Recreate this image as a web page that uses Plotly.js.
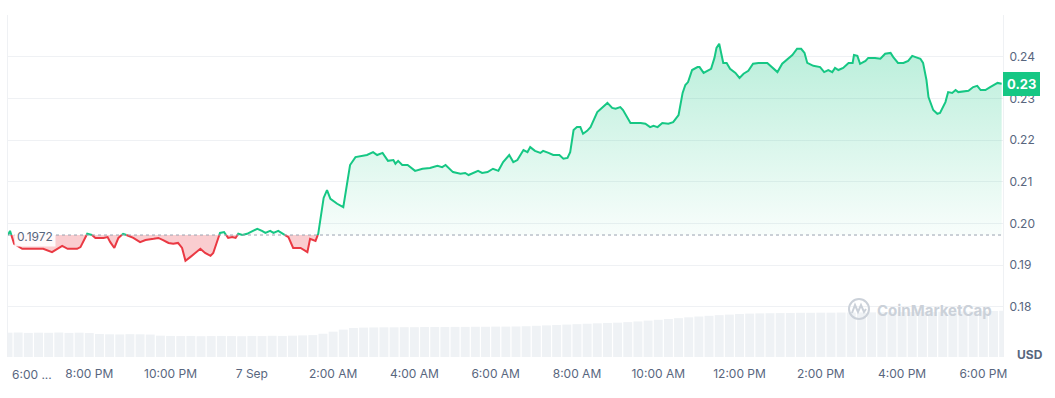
<!DOCTYPE html>
<html>
<head>
<meta charset="utf-8">
<script src="https://cdn.plot.ly/plotly-3.0.1.min.js"></script>
<style>
  html, body { margin: 0; padding: 0; background: #ffffff; }
  #chart { width: 1055px; height: 398px; }
</style>
</head>
<body>
<div id="chart"></div>
<script>
// ---- data ----
// minutes after 6 Sep 18:00
const priceMinutes = [0,3,9,21,30,43,52,65,80,88,102,107,117,124,129,141,147,151,157,163,170,178,185,195,203,215,222,229,237,244,251,257,262,269,277,284,291,299,303,313,319,325,331,336,340,346,353,358,368,375,380,387,392,399,406,414,421,432,442,446,454,458,466,471,476,486,495,505,513,523,530,539,545,553,561,569,572,576,582,590,601,612,623,634,641,646,657,668,675,680,690,694,700,708,716,724,731,740,746,752,761,767,771,778,786,790,798,805,814,820,826,830,835,840,845,849,855,860,870,877,885,892,897,904,908,919,934,941,948,953,959,966,975,982,990,996,1000,1004,1010,1018,1021,1027,1032,1038,1043,1046,1050,1056,1061,1066,1074,1080,1086,1093,1100,1108,1121,1128,1136,1143,1151,1158,1165,1171,1176,1180,1189,1199,1205,1211,1217,1221,1226,1233,1241,1247,1249,1254,1258,1266,1270,1280,1288,1295,1303,1307,1314,1322,1329,1335,1340,1347,1351,1356,1359,1366,1372,1376,1384,1388,1394,1399,1403,1418,1425,1431,1436,1443,1450,1461,1467];
const priceUSD = [0.1972,0.1982,0.1951,0.1939,0.1939,0.1939,0.1939,0.1931,0.1946,0.1939,0.1939,0.1943,0.1975,0.1972,0.1965,0.1965,0.1967,0.1955,0.1941,0.1965,0.1975,0.1970,0.1965,0.1955,0.1960,0.1963,0.1965,0.1960,0.1953,0.1951,0.1953,0.1941,0.1910,0.1919,0.1929,0.1939,0.1929,0.1922,0.1929,0.1977,0.1979,0.1965,0.1967,0.1965,0.1975,0.1972,0.1975,0.1979,0.1987,0.1982,0.1977,0.1982,0.1977,0.1982,0.1975,0.1967,0.1941,0.1941,0.1931,0.1963,0.1958,0.1975,0.2061,0.2080,0.2059,0.2047,0.2039,0.2140,0.2159,0.2162,0.2164,0.2171,0.2164,0.2169,0.2150,0.2152,0.2143,0.2150,0.2140,0.2140,0.2126,0.2131,0.2133,0.2138,0.2135,0.2140,0.2123,0.2119,0.2121,0.2116,0.2123,0.2126,0.2121,0.2123,0.2131,0.2126,0.2147,0.2164,0.2147,0.2152,0.2176,0.2171,0.2183,0.2174,0.2169,0.2174,0.2169,0.2164,0.2164,0.2155,0.2157,0.2171,0.2224,0.2231,0.2231,0.2215,0.2222,0.2231,0.2267,0.2277,0.2289,0.2277,0.2275,0.2279,0.2272,0.2241,0.2241,0.2239,0.2231,0.2234,0.2231,0.2241,0.2239,0.2243,0.2260,0.2313,0.2332,0.2339,0.2368,0.2375,0.2375,0.2361,0.2366,0.2371,0.2397,0.2421,0.2431,0.2385,0.2385,0.2371,0.2361,0.2349,0.2359,0.2366,0.2383,0.2385,0.2385,0.2375,0.2363,0.2383,0.2395,0.2404,0.2419,0.2419,0.2409,0.2385,0.2378,0.2375,0.2363,0.2368,0.2363,0.2373,0.2368,0.2373,0.2385,0.2385,0.2404,0.2402,0.2383,0.2390,0.2397,0.2397,0.2395,0.2407,0.2409,0.2399,0.2385,0.2385,0.2390,0.2402,0.2399,0.2395,0.2385,0.2344,0.2303,0.2272,0.2263,0.2265,0.2291,0.2315,0.2313,0.2320,0.2315,0.2318,0.2327,0.2330,0.2320,0.2320,0.2327,0.2337,0.2335];
const openPrice = 0.1972;
// volume (million USD), one bar per 15 minutes from 6 Sep 18:00
const volumeM = [17.8,17.9,17.6,17.8,17.7,17.9,17.6,17.8,17.5,16.8,16.6,16.5,16.7,16.6,16.4,15.6,15.4,15.3,15.4,15.2,15.3,15.4,15.3,15.2,15.4,15.3,15.5,15.4,15.6,15.8,16.0,17.0,18.5,20.0,21.2,21.5,21.6,21.7,21.7,21.8,21.8,21.9,21.9,21.9,22.0,22.0,22.1,22.1,22.2,22.2,22.3,22.5,22.8,23.1,23.4,23.7,24.0,24.3,24.6,24.9,25.1,25.5,26.0,26.6,27.2,27.8,28.4,29.0,29.6,30.1,30.6,31.0,31.4,31.7,31.9,32.0,32.1,32.2,32.3,32.3,32.4,32.4,32.5,32.5,32.6,32.6,32.7,32.7,32.8,32.9,32.9,33.0,33.1,33.2,33.3,33.4,33.5,33.6,33.8];
const volumeStepMinutes = 15;
const tickTimes = ["2024-09-06 20:00","2024-09-06 22:00","2024-09-07 00:00","2024-09-07 02:00","2024-09-07 04:00","2024-09-07 06:00","2024-09-07 08:00","2024-09-07 10:00","2024-09-07 12:00","2024-09-07 14:00","2024-09-07 16:00","2024-09-07 18:00"];
const tickLabels = ["8:00 PM","10:00 PM","7 Sep","2:00 AM","4:00 AM","6:00 AM","8:00 AM","10:00 AM","12:00 PM","2:00 PM","4:00 PM","6:00 PM"];
const firstTickLabel = "6:00 ...";
const yTickVals = [0.18,0.19,0.20,0.21,0.22,0.23,0.24,0.25];
const yTickText = ["0.18","0.19","0.20","0.21","0.22","0.23","0.24",""];
const badgeText = "0.23";

// ---- build ----
const START = Date.UTC(2024, 8, 6, 18, 0);
const MIN = 60000;
const t = priceMinutes.map(m => START + m * MIN);
const vt = volumeM.map((_, i) => START + i * volumeStepMinutes * MIN);

// insert crossing points where the line crosses the open price (for colouring)
const X = [], Y = [];
for (let i = 0; i < t.length; i++) {
  X.push(t[i]); Y.push(priceUSD[i]);
  if (i < t.length - 1) {
    const a = priceUSD[i] - openPrice, b = priceUSD[i + 1] - openPrice;
    if (a * b < 0) {
      const f = a / (a - b);
      X.push(t[i] + f * (t[i + 1] - t[i])); Y.push(openPrice);
    }
  }
}
const hi = Y.map(v => Math.max(v, openPrice));
const lo = Y.map(v => Math.min(v, openPrice));
const gLine = Y.map(v => v >= openPrice ? v : null);
const rLine = Y.map(v => v <= openPrice ? v : null);
const baseArr = Y.map(() => openPrice);

const GREEN = '#16c784', RED = '#ea3943', GREY = '#58667e';

const traces = [
  { type: 'bar', x: vt, y: volumeM, yaxis: 'y2', marker: { color: '#eff2f5', line: { width: 0 } }, hoverinfo: 'skip' },
  { type: 'scatter', mode: 'lines', x: X, y: baseArr, line: { width: 0, color: 'rgba(0,0,0,0)' }, hoverinfo: 'skip' },
  { type: 'scatter', mode: 'lines', x: X, y: hi, fill: 'tonexty', line: { width: 0, color: 'rgba(0,0,0,0)' },
    fillgradient: { type: 'vertical', start: openPrice, stop: 0.243,
      colorscale: [[0, 'rgba(22,199,132,0.03)'], [1, 'rgba(22,199,132,0.30)']] }, hoverinfo: 'skip' },
  { type: 'scatter', mode: 'lines', x: X, y: baseArr, line: { width: 0, color: 'rgba(0,0,0,0)' }, hoverinfo: 'skip' },
  { type: 'scatter', mode: 'lines', x: X, y: lo, fill: 'tonexty', fillcolor: 'rgba(234,57,67,0.25)', line: { width: 0, color: 'rgba(0,0,0,0)' }, hoverinfo: 'skip' },
  { type: 'scatter', mode: 'lines', x: X, y: gLine, line: { width: 2, color: GREEN }, connectgaps: false, hoverinfo: 'skip' },
  { type: 'scatter', mode: 'lines', x: X, y: rLine, line: { width: 2, color: RED }, connectgaps: false, hoverinfo: 'skip' }
];

const px2pX = X0 => (X0 - 8) / 995;
const px2pY = Y0 => (357 - Y0) / 342;

const layout = {
  width: 1055, height: 398,
  margin: { l: 8, r: 52, t: 15, b: 41 },
  paper_bgcolor: '#ffffff', plot_bgcolor: '#ffffff',
  showlegend: false,
  bargap: 0.12,
  font: { family: 'Inter, "Open Sans", sans-serif', color: GREY, size: 12 },
  xaxis: {
    type: 'date',
    range: [START, START + 1469 * MIN],
    tickmode: 'array',
    tickvals: tickTimes,
    ticktext: tickLabels,
    showgrid: false, zeroline: false, showline: false, ticks: '',
    ticklabelstandoff: 8,
    tickfont: { family: 'Inter, sans-serif', size: 12, color: GREY },
    fixedrange: true
  },
  yaxis: {
    side: 'right',
    range: [0.16793, 0.25],
    tickmode: 'array', tickvals: yTickVals, ticktext: yTickText,
    showgrid: true, gridcolor: '#eff1f4', gridwidth: 1,
    zeroline: false, showline: true, mirror: true, linecolor: '#eff1f4', linewidth: 1,
    ticks: '', ticklabelstandoff: 3,
    tickfont: { family: 'Inter, sans-serif', size: 12, color: GREY },
    fixedrange: true
  },
  yaxis2: { overlaying: 'y', range: [0, 250], visible: false, fixedrange: true },
  shapes: [
    { type: 'line', xref: 'paper', x0: 0, x1: 1, yref: 'y', y0: openPrice, y1: openPrice,
      line: { color: '#9aa3b0', width: 1, dash: 'dot' } },
    { type: 'circle', xref: 'paper', yref: 'paper', x0: px2pX(849), x1: px2pX(869), y0: px2pY(319), y1: px2pY(299),
      line: { color: '#cbd1d9', width: 2 } },
    { type: 'path', xref: 'paper', yref: 'paper',
      path: 'M ' + px2pX(852) + ' ' + px2pY(313) + ' L ' + px2pX(855) + ' ' + px2pY(305) + ' L ' + px2pX(858) + ' ' + px2pY(312) +
            ' L ' + px2pX(861) + ' ' + px2pY(305) + ' L ' + px2pX(864) + ' ' + px2pY(312) + ' L ' + px2pX(866) + ' ' + px2pY(309),
      line: { color: '#cbd1d9', width: 2 } }
  ],
  annotations: [
    { xref: 'paper', x: 0, xanchor: 'left', xshift: 6, yref: 'y', y: openPrice, yanchor: 'middle', yshift: -1,
      text: '0.1972', showarrow: false, bgcolor: 'rgba(255,255,255,0.9)', borderpad: 2,
      font: { family: 'Inter, sans-serif', size: 12, color: GREY } },
    { xref: 'paper', x: 1, xanchor: 'left', yref: 'y', y: priceUSD[priceUSD.length - 1], yanchor: 'middle',
      text: '<b>' + badgeText + '</b>', showarrow: false, bgcolor: GREEN, bordercolor: GREEN, borderpad: 3,
      font: { family: 'Inter, sans-serif', size: 13, color: '#ffffff' } },
    { xref: 'paper', x: 1, xanchor: 'left', xshift: 12, yref: 'paper', y: 0, yanchor: 'middle', yshift: 3,
      text: '<b>USD</b>', showarrow: false, font: { family: 'Inter, sans-serif', size: 12, color: GREY } },
    { xref: 'paper', x: 0, xanchor: 'left', xshift: 2, yref: 'paper', y: 0, yanchor: 'middle', yshift: -17,
      text: firstTickLabel, showarrow: false, font: { family: 'Inter, sans-serif', size: 12, color: GREY } },
    { xref: 'paper', x: px2pX(875), xanchor: 'left', yref: 'paper', y: px2pY(310), yanchor: 'middle',
      text: '<b>CoinMarketCap</b>', showarrow: false, font: { family: 'Inter, sans-serif', size: 15, color: '#cbd1d9' } }
  ]
};

Plotly.newPlot('chart', traces, layout, { staticPlot: true, displayModeBar: false });
</script>
</body>
</html>
